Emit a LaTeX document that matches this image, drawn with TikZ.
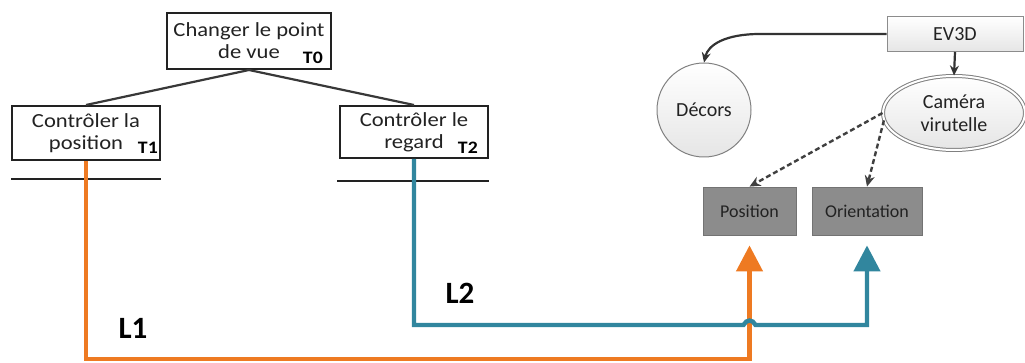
\documentclass[tikz,border=0pt]{standalone}
\usepackage{fontspec}
\setmainfont{Carlito}
\newfontfamily\treefont[FakeStretch=1.13]{Carlito}
\usetikzlibrary{arrows.meta,shapes.geometric,calc}
\definecolor{lorange}{HTML}{EE7A22}
\definecolor{lblue}{HTML}{31869E}
\definecolor{txt}{HTML}{222222}
\definecolor{gbox}{HTML}{8C8C8C}
\begin{document}
\begin{tikzpicture}[x=1pt,y=-1pt,
  tbox/.style={draw=txt,line width=2pt,align=center,inner sep=0pt,
    font=\treefont\fontsize{20}{22}\selectfont,text=txt},
  tlab/.style={font=\treefont\bfseries\fontsize{17.5}{18}\selectfont,text=black,inner sep=0pt},
  treeline/.style={draw=txt!90,line width=2.2pt},
  uline/.style={draw=txt,line width=1.8pt},
  oline/.style={draw=lorange,line width=4.4pt,-{Triangle[length=26pt,width=26pt]},shorten >=10pt},
  bline/.style={draw=lblue,line width=4.4pt,-{Triangle[length=26pt,width=26pt]},shorten >=10pt},
  gnode/.style={draw=black!55,fill=gbox,line width=0.8pt,font=\fontsize{18}{20}\selectfont,text=txt,inner sep=0pt},
  lnode/.style={draw=black!45,line width=1pt,top color=white,bottom color=black!10,text=txt,font=\fontsize{20}{23}\selectfont,align=center,inner sep=0pt},
  darr/.style={draw=black!80,line width=2.2pt,-{Stealth[length=10pt,width=9pt]}},
  dasharr/.style={draw=black!75,line width=2.4pt,dash pattern=on 5pt off 3pt,-{Stealth[length=11pt,width=10pt]}},
  big/.style={font=\bfseries\fontsize{31}{34}\selectfont,text=black,inner sep=0pt}
]
\useasboundingbox (0,0) rectangle (1025,363);

% tree
\node[tbox,minimum width=164pt,minimum height=56pt] (T0) at (249,41) {Changer le point\\de vue};
\node[tbox,minimum width=148pt,minimum height=54pt] (T1) at (86,133) {Contrôler la\\position};
\node[tbox,minimum width=148pt,minimum height=52pt] (T2) at (414,132) {Contrôler le\\regard};
\node[tlab,anchor=base east] (l0) at (323,64) {T0};
\node[tlab,anchor=base east] (l1) at (158,154) {T1};
\node[tlab,anchor=base east] (l2) at (478,154) {T2};
\draw[treeline] (T0.south) -- (T1.north);
\draw[treeline] (T0.south) -- (T2.north);
\draw[uline] ($(T1.south west)+(0,18)$) -- ($(T1.south east)+(0,18)$);
\draw[uline] ($(T2.south west)+(-2,22)$) -- ($(T2.south east)+(0,22)$);

% right part
\node[lnode,minimum width=136pt,minimum height=35pt] (EV) at (955,34) {EV3D};
\node[lnode,circle,minimum size=94pt,draw=black!50] (Dec) at (704,110) {Décors};
\node[lnode,ellipse,minimum width=142pt,minimum height=74pt,double,double distance=2pt,draw=black!50] (Cam) at (954,113) {Caméra\\virutelle};
\node[gnode,minimum width=93pt,minimum height=48pt] (Pos) at (749.5,211) {Position};
\node[gnode,minimum width=110pt,minimum height=48pt] (Ori) at (867,211) {Orientation};

\draw[darr] (EV.west) -- (760,34) .. controls (725,34) and (708,45) .. (Dec.north);
\draw[darr] (EV.south) -- (Cam.north);
\draw[dasharr] (Cam.west) -- (Pos.north);
\draw[dasharr] (Cam.186) -- (Ori.north);

% links
\coordinate (ob) at (0,359);
\coordinate (bb) at (0,325);
\draw[oline] (T1.south) |- (Pos.south |- ob) -- (Pos.south);
\draw[bline] (T2.south) |- ($(Pos.south |- bb)+(-6,0)$)
   .. controls ($(Pos.south |- bb)+(-3,-6)$) and ($(Pos.south |- bb)+(3,-6)$) .. ($(Pos.south |- bb)+(6,0)$)
   -- (Ori.south |- bb) -- (Ori.south);

\node[big,anchor=base] (L1) at (133,338) {L1};
\node[big,anchor=base] (L2) at (460,303) {L2};
\end{tikzpicture}
\end{document}
